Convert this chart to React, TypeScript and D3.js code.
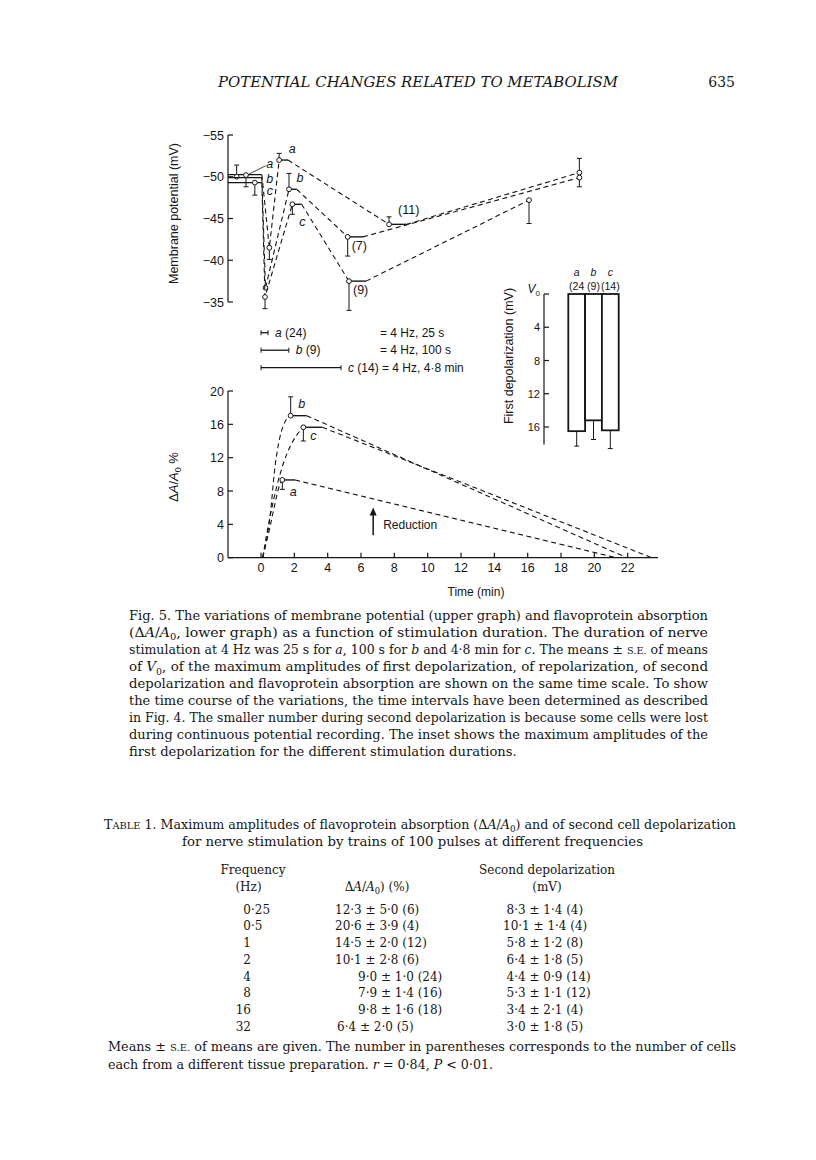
import React from 'react';
import * as d3 from 'd3';

type Seg = string | { t: string; i?: boolean; sc?: boolean; sub?: boolean };

const series = ['a', 'b', 'c'];

// ---- upper graph: membrane potential (mV), time in min ----
const v0Time = [-1.46, -0.9, -0.37];
const v0Value = [-50.0, -50.2, -49.3];
const v0Err = [-51.4, -48.8, -47.8];
const v0Level = [-50.25, -49.9, -49.3];
const dipTime = [0.5, 0.27, 0.24];
const dipValue = [-41.5, -36.7, -35.6];
const dipErr: (number | null)[] = [-40.1, null, -34.2];
const peakTime = [1.09, 1.68, 1.88];
const peakValue = [-52.0, -48.5, -46.7];
const peakErr = [-52.8, -50.4, -45.5];
const peakEnd = [1.62, 2.14, 2.44];
const repolTime = [7.68, 5.2, 5.28];
const repolValue = [-44.3, -42.8, -37.5];
const repolErr = [-45.2, -40.5, -34.0];
const repolEnd = [8.74, 6.12, 6.3];
const repolN = ['(11)', '(7)', '(9)'];
const recTime = [19.1, 19.1, 16.08];
const recValue = [-50.5, -49.9, -47.2];
const recErr = [-52.2, -48.8, -44.4];
const upperTicks = [-55, -50, -45, -40, -35];

// ---- stimulation legend ----
const stimDur = [0.42, 1.67, 4.8];
const stimLabel = ['(24)', '(9)', '(14)'];
const stimText = ['= 4 Hz, 25 s', '= 4 Hz, 100 s', '= 4 Hz, 4·8 min'];

// ---- lower graph: ΔA/A0 % ----
const riseA: [number, number][] = [[0.1, 0], [0.54, 3.7], [0.84, 6.5], [1.1, 8.6]];
const riseB: [number, number][] = [[0.1, 0], [0.54, 4.9], [0.84, 10.9], [1.14, 14.5], [1.44, 16.3]];
const riseC: [number, number][] = [[0.1, 0], [0.54, 4.9], [0.94, 8.5], [1.34, 11.3], [1.74, 13.3], [2.14, 14.7]];
const absPeakTime = [1.28, 1.78, 2.54];
const absPeakValue = [9.33, 17.04, 15.65];
const absPeakErr = [8.2, 19.3, 14.0];
const absPeakEnd = [2.04, 2.74, 3.68];
const absZeroTime = [21.3, 21.94, 23.44];
const lowerYTicks = [0, 4, 8, 12, 16, 20];
const lowerXTicks = [0, 2, 4, 6, 8, 10, 12, 14, 16, 18, 20, 22];
const reductionTime = 6.73;
const reductionFrom = 2.7;
const reductionTo = 5.9;

// ---- inset: first depolarization (mV) ----
const insetN = ['(24', '(9)', '(14)'];
const insetValue = [16.5, 15.2, 16.4];
const insetErr = [18.3, 17.5, 18.6];
const insetTicks = [4, 8, 12, 16];

// ---- text ----
const headerText = 'POTENTIAL CHANGES RELATED TO METABOLISM';
const pageNo = '635';
const captionLines: Seg[][] = [
  ['Fig. 5. The variations of membrane potential (upper graph) and flavoprotein absorption'],
  ['(Δ', { t: 'A', i: true }, '/', { t: 'A', i: true }, { t: '0', sub: true }, ', lower graph) as a function of stimulation duration. The duration of nerve'],
  ['stimulation at 4 Hz was 25 s for ', { t: 'a', i: true }, ', 100 s for ', { t: 'b', i: true }, ' and 4·8 min for ', { t: 'c', i: true }, '. The means ± ', { t: 's.e.', sc: true }, ' of means'],
  ['of ', { t: 'V', i: true }, { t: '0', sub: true }, ', of the maximum amplitudes of first depolarization, of repolarization, of second'],
  ['depolarization and flavoprotein absorption are shown on the same time scale. To show'],
  ['the time course of the variations, the time intervals have been determined as described'],
  ['in Fig. 4. The smaller number during second depolarization is because some cells were lost'],
  ['during continuous potential recording. The inset shows the maximum amplitudes of the'],
  ['first depolarization for the different stimulation durations.'],
];
const tableTitle1: Seg[] = ['T', { t: 'able', sc: true }, ' 1. Maximum amplitudes of flavoprotein absorption (Δ', { t: 'A', i: true }, '/', { t: 'A', i: true }, { t: '0', sub: true }, ') and of second cell depolarization'];
const tableTitle2 = 'for nerve stimulation by trains of 100 pulses at different frequencies';
const freqHz = ['0·25', '0·5', '1', '2', '4', '8', '16', '32'];
const dAValues = ['12·3 ± 5·0 (6)', '20·6 ± 3·9 (4)', '14·5 ± 2·0 (12)', '10·1 ± 2·8 (6)', '9·0 ± 1·0 (24)', '7·9 ± 1·4 (16)', '9·8 ± 1·6 (18)', '6·4 ± 2·0 (5)'];
const secondDep = ['8·3 ± 1·4 (4)', '10·1 ± 1·4 (4)', '5·8 ± 1·2 (8)', '6·4 ± 1·8 (5)', '4·4 ± 0·9 (14)', '5·3 ± 1·1 (12)', '3·4 ± 2·1 (4)', '3·0 ± 1·8 (5)'];
const footer1: Seg[] = ['Means ± ', { t: 's.e.', sc: true }, ' of means are given. The number in parentheses corresponds to the number of cells'];
const footer2: Seg[] = ['each from a different tissue preparation. ', { t: 'r', i: true }, ' = 0·84, ', { t: 'P', i: true }, ' < 0·01.'];

// layout only
const dAx = [335, 335, 335, 335, 358, 358, 358, 337];
const sdx = [506.5, 503, 506.5, 506.5, 506.5, 506.5, 506.5, 506.5];

const SANS = '"Liberation Sans", Arial, sans-serif';
const SERIF = '"DejaVu Serif", serif';
const INK = '#151515';

function rich(segs: Seg[], size: number) {
  let shifted = false;
  return segs.map((s, k) => {
    const seg = typeof s === 'string' ? { t: s } : s;
    let dy: number | undefined;
    if (seg.sub && !shifted) { dy = size * 0.28; shifted = true; }
    else if (!seg.sub && shifted) { dy = -size * 0.28; shifted = false; }
    const fs = seg.sub ? size * 0.7 : seg.sc ? size * 0.78 : undefined;
    return (
      <tspan key={k} dy={dy} fontStyle={seg.i ? 'italic' : undefined} fontSize={fs}>
        {seg.sc ? seg.t.toUpperCase() : seg.t}
      </tspan>
    );
  });
}

const xT = d3.scaleLinear().domain([0, 22]).range([261, 627.7]);
const yV = d3.scaleLinear().domain([-55, -35]).range([135, 302]);
const yA = d3.scaleLinear().domain([0, 20]).range([557.7, 391]);
const yI = d3.scaleLinear().domain([0, 16]).range([294, 427]);
const xI = d3.scaleBand<string>().domain(series).range([568.3, 618.7]);

const line = d3.line<[number, number]>();
const curve = d3.line<[number, number]>().curve(d3.curveMonotoneX);

function Err({ x, y0, y1 }: { x: number; y0: number; y1: number }) {
  return (
    <g stroke={INK} strokeWidth={1}>
      <line x1={x} x2={x} y1={y0} y2={y1} />
      <line x1={x - 2.5} x2={x + 2.5} y1={y1} y2={y1} />
    </g>
  );
}

function Dot({ x, y }: { x: number; y: number }) {
  return <circle cx={x} cy={y} r={2.4} fill="#fff" stroke={INK} strokeWidth={1} />;
}

export default function App() {
  const dash = { fill: 'none', stroke: INK, strokeWidth: 1.1, strokeDasharray: '5 3.5' };
  const solid = { fill: 'none', stroke: INK, strokeWidth: 1.4 };
  const axisX = 228;

  // label offsets relative to data points (layout)
  const peakLab = [[13, -7], [11, -7], [10, 22]];
  const baseLab = [[8, -7], [8, 5], [8, 12]];
  const repolLab = [[9, -10], [4, 13], [4, 13]];
  const absLab = [[11, 16], [11, -8], [10, 13]];

  const capL = 129, capR = 708;
  const tabL = 104, tabR = 736;

  return (
    <div style={{ position: 'absolute', left: 0, top: 0 }}>
      <svg width={816} height={1160} style={{ display: 'block', background: '#fff' }}>
        {/* running header */}
        <text x={218} y={87} textLength={400} lengthAdjust="spacingAndGlyphs" fontFamily={SERIF} fontStyle="italic" fontSize={14} fill={INK}>{headerText}</text>
        <text x={735} y={87} textAnchor="end" fontFamily={SERIF} fontSize={14} fill={INK}>{pageNo}</text>

        <g fontFamily={SANS} fill={INK}>
          {/* ===== upper graph ===== */}
          <line x1={axisX} x2={axisX} y1={yV(-55)} y2={yV(-35)} stroke={INK} strokeWidth={1.2} />
          {upperTicks.map(t => (
            <g key={t}>
              <line x1={axisX} x2={axisX + 5} y1={yV(t)} y2={yV(t)} stroke={INK} strokeWidth={1.2} />
              <text x={axisX - 4} y={yV(t) + 4.5} textAnchor="end" fontSize={12.5}>{'−' + Math.abs(t)}</text>
            </g>
          ))}
          <text transform={`translate(177.5,${(yV(-55) + yV(-35)) / 2 - 5}) rotate(-90)`} textAnchor="middle" fontSize={12.5}>Membrane potential (mV)</text>

          {series.map((s, i) => (
            <g key={s}>
              <line x1={axisX} x2={xT(0.05)} y1={yV(v0Level[i])} y2={yV(v0Level[i])} stroke={INK} strokeWidth={1.3} />
              <path d={line([[0.05, v0Level[i]], [dipTime[i], dipValue[i]], [peakTime[i], peakValue[i]]].map(([t, v]) => [xT(t), yV(v)]) as [number, number][]) || ''} style={dash} />
              <path d={line([[xT(peakTime[i]), yV(peakValue[i])], [xT(peakEnd[i]), yV(peakValue[i])]]) || ''} style={solid} />
              <path d={line([[xT(peakEnd[i]), yV(peakValue[i])], [xT(repolTime[i]), yV(repolValue[i])]]) || ''} style={dash} />
              <path d={line([[xT(repolTime[i]), yV(repolValue[i])], [xT(repolEnd[i]), yV(repolValue[i])]]) || ''} style={solid} />
              <path d={line([[xT(repolEnd[i]), yV(repolValue[i])], [xT(recTime[i]), yV(recValue[i])]]) || ''} style={dash} />

              <Err x={xT(v0Time[i])} y0={yV(v0Value[i])} y1={yV(v0Err[i])} />
              {dipErr[i] !== null && <Err x={xT(dipTime[i])} y0={yV(dipValue[i])} y1={yV(dipErr[i] as number)} />}
              <Err x={xT(peakTime[i])} y0={yV(peakValue[i])} y1={yV(peakErr[i])} />
              <Err x={xT(repolTime[i])} y0={yV(repolValue[i])} y1={yV(repolErr[i])} />
              <Err x={xT(recTime[i])} y0={yV(recValue[i])} y1={yV(recErr[i])} />

              <Dot x={xT(v0Time[i])} y={yV(v0Value[i])} />
              <Dot x={xT(dipTime[i])} y={yV(dipValue[i])} />
              <Dot x={xT(peakTime[i])} y={yV(peakValue[i])} />
              <Dot x={xT(repolTime[i])} y={yV(repolValue[i])} />
              <Dot x={xT(recTime[i])} y={yV(recValue[i])} />

              <text x={xT(peakTime[i]) + peakLab[i][0]} y={yV(peakValue[i]) + peakLab[i][1]} textAnchor="middle" fontStyle="italic" fontSize={12.5}>{s}</text>
              <text x={xT(0.05) + baseLab[i][0]} y={yV(v0Level[i]) + baseLab[i][1]} textAnchor="middle" fontStyle="italic" fontSize={12.5}>{s}</text>
              <text x={xT(repolTime[i]) + repolLab[i][0]} y={yV(repolValue[i]) + repolLab[i][1]} fontSize={12.5}>{repolN[i]}</text>
            </g>
          ))}
          <line x1={xT(v0Time[1]) + 3} y1={yV(v0Value[1]) - 1} x2={xT(0.05) + 4} y2={yV(v0Level[0]) - 9} stroke={INK} strokeWidth={0.8} />

          {/* ===== stimulation legend ===== */}
          {series.map((s, i) => {
            const y = 332.7 + i * 17.5;
            const x1 = xT(stimDur[i]);
            return (
              <g key={s}>
                <line x1={xT(0)} x2={x1} y1={y} y2={y} stroke={INK} strokeWidth={1.3} />
                <line x1={xT(0)} x2={xT(0)} y1={y - 2.5} y2={y + 2.5} stroke={INK} strokeWidth={1} />
                <line x1={x1} x2={x1} y1={y - 2.5} y2={y + 2.5} stroke={INK} strokeWidth={1} />
                <text x={x1 + 7} y={y + 4} fontSize={12}>
                  <tspan fontStyle="italic">{s}</tspan> {stimLabel[i]}
                  {i === 2 ? ' ' + stimText[i] : ''}
                </text>
                {i < 2 && <text x={380} y={y + 4} fontSize={12}>{stimText[i]}</text>}
              </g>
            );
          })}

          {/* ===== inset ===== */}
          <line x1={544} x2={544} y1={yI(0)} y2={yI(18.1)} stroke={INK} strokeWidth={1.2} />
          <line x1={544} x2={549} y1={yI(0)} y2={yI(0)} stroke={INK} strokeWidth={1.2} />
          <text x={540} y={yI(0) - 1} textAnchor="end" fontSize={12} fontStyle="italic">V<tspan fontSize={8} dy={3} fontStyle="normal">0</tspan></text>
          {insetTicks.map(t => (
            <g key={t}>
              <line x1={544} x2={549} y1={yI(t)} y2={yI(t)} stroke={INK} strokeWidth={1.2} />
              <text x={540} y={yI(t) + 4} textAnchor="end" fontSize={11}>{t}</text>
            </g>
          ))}
          <text transform={`translate(512.5,356) rotate(-90)`} textAnchor="middle" fontSize={12.5}>First depolarization (mV)</text>
          {series.map((s, i) => {
            const x0 = xI(s) as number;
            const bw = xI.bandwidth();
            return (
              <g key={s}>
                <rect x={x0} y={yI(0)} width={bw} height={yI(insetValue[i]) - yI(0)} fill="#fff" stroke={INK} strokeWidth={1.8} />
                <Err x={x0 + bw / 2} y0={yI(insetValue[i])} y1={yI(insetErr[i])} />
                <text x={x0 + bw / 2} y={276} textAnchor="middle" fontStyle="italic" fontSize={10.5}>{s}</text>
                <text x={x0 + bw / 2} y={289.5} textAnchor="middle" fontSize={10.5}>{insetN[i]}</text>
              </g>
            );
          })}

          {/* ===== lower graph ===== */}
          <line x1={axisX} x2={axisX} y1={yA(0)} y2={yA(20)} stroke={INK} strokeWidth={1.2} />
          {lowerYTicks.map(t => (
            <g key={t}>
              <line x1={axisX} x2={axisX + 5} y1={yA(t)} y2={yA(t)} stroke={INK} strokeWidth={1.2} />
              <text x={axisX - 4} y={yA(t) + 4.5} textAnchor="end" fontSize={12.5}>{t}</text>
            </g>
          ))}
          <line x1={axisX} x2={658} y1={yA(0)} y2={yA(0)} stroke={INK} strokeWidth={1.2} />
          {lowerXTicks.map(t => (
            <g key={t}>
              <line x1={xT(t)} x2={xT(t)} y1={yA(0)} y2={yA(0) - 5} stroke={INK} strokeWidth={1.2} />
              <text x={xT(t)} y={yA(0) + 14} textAnchor="middle" fontSize={12.5}>{t}</text>
            </g>
          ))}
          <text x={476} y={596} textAnchor="middle" fontSize={12}>Time (min)</text>
          <text transform={`translate(177.5,477) rotate(-90)`} textAnchor="middle" fontSize={13}>
            Δ<tspan fontStyle="italic">A</tspan>/<tspan fontStyle="italic">A</tspan><tspan fontSize={9} dy={3}>0</tspan><tspan dy={-3}> %</tspan>
          </text>

          {[riseA, riseB, riseC].map((rise, i) => {
            const pts = [...rise, [absPeakTime[i], absPeakValue[i]] as [number, number]].map(([t, v]) => [xT(t), yA(v)] as [number, number]);
            return (
              <g key={i}>
                <path d={curve(pts) || ''} style={dash} />
                <path d={line([[xT(absPeakTime[i]), yA(absPeakValue[i])], [xT(absPeakEnd[i]), yA(absPeakValue[i])]]) || ''} style={solid} />
                <path d={line([[xT(absPeakEnd[i]), yA(absPeakValue[i])], [xT(absZeroTime[i]), yA(0)]]) || ''} style={dash} />
                <Err x={xT(absPeakTime[i])} y0={yA(absPeakValue[i])} y1={yA(absPeakErr[i])} />
                <Dot x={xT(absPeakTime[i])} y={yA(absPeakValue[i])} />
                <text x={xT(absPeakTime[i]) + absLab[i][0]} y={yA(absPeakValue[i]) + absLab[i][1]} textAnchor="middle" fontStyle="italic" fontSize={12.5}>{series[i]}</text>
              </g>
            );
          })}

          <line x1={xT(reductionTime)} x2={xT(reductionTime)} y1={yA(reductionFrom)} y2={yA(reductionTo) + 6} stroke={INK} strokeWidth={1.5} />
          <path d={`M${xT(reductionTime)},${yA(reductionTo) - 1} l-3.5,8 l7,0 z`} fill={INK} />
          <text x={xT(reductionTime) + 10} y={529} fontSize={12}>Reduction</text>
        </g>

        {/* ===== caption ===== */}
        <g fontFamily={SERIF} fontSize={12} fill={INK}>
          {captionLines.map((segs, k) => (
            <text key={k} x={capL} y={620 + k * 17.05} textLength={k === 8 ? 516.7 - capL : capR - capL} lengthAdjust="spacingAndGlyphs">
              {rich(segs, 12)}
            </text>
          ))}

          {/* ===== table ===== */}
          <text x={tabL} y={829} textLength={tabR - tabL} lengthAdjust="spacingAndGlyphs">{rich(tableTitle1, 12)}</text>
          <text x={412.5} y={846} textAnchor="middle" textLength={461} lengthAdjust="spacingAndGlyphs">{tableTitle2}</text>

          <text x={253} y={874} textAnchor="middle">Frequency</text>
          <text x={248.5} y={891} textAnchor="middle">(Hz)</text>
          <text x={377} y={891} textAnchor="middle">{rich(['Δ', { t: 'A', i: true }, '/', { t: 'A', i: true }, { t: '0', sub: true }, ') (%)'], 12)}</text>
          <text x={547} y={874} textAnchor="middle">Second depolarization</text>
          <text x={547} y={891} textAnchor="middle">(mV)</text>

          {freqHz.map((f, r) => {
            const y = 913.5 + r * 16.77;
            const [ip, fp] = f.split('·');
            return (
              <g key={f}>
                <text x={251} y={y} textAnchor="end">{ip}</text>
                {fp && <text x={251} y={y}>{'·' + fp}</text>}
                <text x={dAx[r]} y={y}>{dAValues[r]}</text>
                <text x={sdx[r]} y={y}>{secondDep[r]}</text>
              </g>
            );
          })}

          {/* ===== footnote ===== */}
          <text x={tabL + 4} y={1051} textLength={tabR - tabL - 4} lengthAdjust="spacingAndGlyphs">{rich(footer1, 12)}</text>
          <text x={tabL + 4} y={1069} textLength={493 - tabL - 4} lengthAdjust="spacingAndGlyphs">{rich(footer2, 12)}</text>
        </g>
      </svg>
    </div>
  );
}
